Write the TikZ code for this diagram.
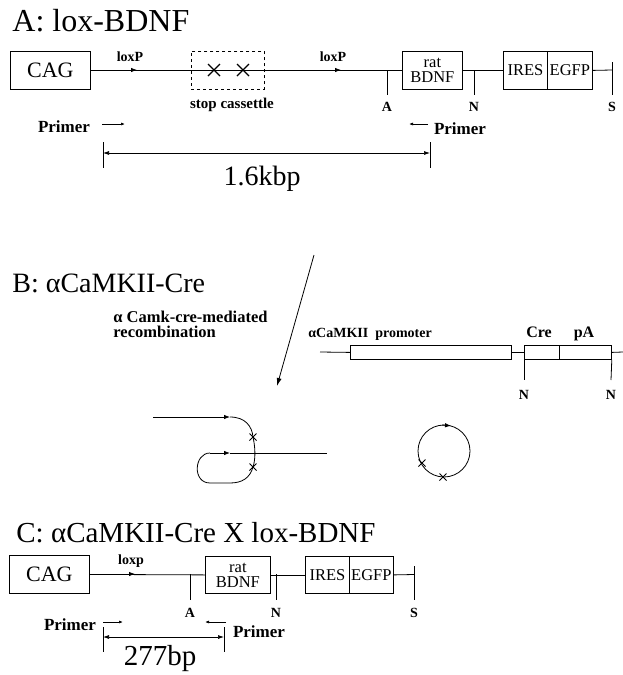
\documentclass[tikz,border=0pt]{standalone}
\usepackage{fontspec}
\setmainfont{Liberation Serif}
\usetikzlibrary{arrows.meta}
\newcommand\fsz[1]{\fontsize{#1}{#1}\selectfont}
\begin{document}
\begin{tikzpicture}[x=1pt,y=-1pt,line width=0.8pt,
  box/.style={draw,line width=0.8pt,inner sep=0pt,anchor=north west,minimum height=38pt},
  dbox/.style={box,dashed},
  title/.style={anchor=base west,inner sep=0pt,font=\fsz{29}},
  lbl/.style={inner sep=0pt,font=\bfseries\fsz{14}},
  big/.style={inner sep=0pt,font=\fsz{28}},
  twoline/.style={align=center,font=\fontsize{16.5}{15}\selectfont},
  tip/.style={-{Latex[length=6pt,width=4.5pt]}},
  ptip/.style={-{Latex[length=4pt,width=3pt]},line width=0.7pt},
  dim/.style={{Latex[length=6pt,width=4pt]}-{Latex[length=6pt,width=4pt]},line width=0.7pt},
  xcross/.pic={\draw[line width=0.8pt] (-3.5,-3.5)--(3.5,3.5) (-3.5,3.5)--(3.5,-3.5);},
  bigcross/.pic={\draw[line width=1.3pt] (-6,-6)--(6,6) (-6,6)--(6,-6);}]
\useasboundingbox (0,0) rectangle (623,675);

% ---------------- Panel A ----------------
\node[title,font=\fsz{32}] (titA) at (12,31) {A: lox-BDNF};
\node[box,minimum width=80pt,font=\fsz{22}] (cagA) at (10,51) {CAG};
\node[dbox,minimum width=73pt] (cas) at (191,51) {};
\node[box,minimum width=60pt,twoline] (bdnfA) at (402,51) {rat\\BDNF};
\node[box,minimum width=44pt,font=\fsz{16.5}] (iresA) at (503,51) {IRES};
\node[box,minimum width=45pt,font=\fsz{16.5}] (egfpA) at (547,51) {EGFP};
\coordinate (endA) at (612,70);
\draw (cagA.east) -- (bdnfA.west);
\draw (bdnfA.east) -- (iresA.west);
\draw (egfpA.east) -- (endA);
\pic at (214,70) {bigcross};
\pic at (243,70) {bigcross};
\node[lbl,font=\bfseries\fsz{15}] (stopl) at (232,105) {stop cassettle};
% loxP arrows
\coordinate (la1) at (137,70); \coordinate (la1s) at (128,70);
\coordinate (la2) at (341,70); \coordinate (la2s) at (332,70);
\draw[tip] (la1s) -- (la1);
\draw[tip] (la2s) -- (la2);
\node[lbl] (lx1) at (130,57) {loxP};
\node[lbl] (lx2) at (333,57) {loxP};
% sites
\coordinate (sAt) at (387,70); \coordinate (sAb) at (387,95);
\coordinate (sNt) at (474,70); \coordinate (sNb) at (474,95);
\coordinate (sSt) at (612,62); \coordinate (sSb) at (612,95);
\draw (sAt) -- (sAb); \draw (sNt) -- (sNb); \draw (sSt) -- (sSb);
\node[lbl] (lA) at (387,107) {A};
\node[lbl] (lN) at (474,107) {N};
\node[lbl] (lS) at (612,107) {S};
% primers
\node[lbl,font=\bfseries\fsz{17}] (p1) at (64,127) {Primer};
\coordinate (p1a) at (102,124); \coordinate (p1b) at (125,124);
\draw[ptip] (p1a) -- (p1b);
\coordinate (p2a) at (428,124); \coordinate (p2b) at (409,124);
\draw[ptip] (p2a) -- (p2b);
\node[lbl,font=\bfseries\fsz{17}] (p2) at (460,129) {Primer};
% dimension
\coordinate (dA1) at (103,153); \coordinate (dA2) at (430,153);
\coordinate (dA1t) at (103,142); \coordinate (dA1b) at (103,168);
\coordinate (dA2t) at (430,142); \coordinate (dA2b) at (430,168);
\draw[dim] (dA1) -- (dA2);
\draw[line width=0.7pt] (dA1t) -- (dA1b) (dA2t) -- (dA2b);
\node[big] (kbp) at (262,179) {1.6kbp};

% ---------------- Panel B ----------------
\node[title,font=\fsz{28}] (titB) at (12,292) {B: αCaMKII-Cre};
\node[anchor=base west,inner sep=0pt,font=\bfseries\fsz{16.5}] (rec1) at (113,322) {α Camk-cre-mediated};
\node[anchor=base west,inner sep=0pt,font=\bfseries\fsz{16.5}] (rec2) at (113,337) {recombination};
\coordinate (dg1) at (314,255); \coordinate (dg2) at (277,386);
\draw[-{Latex[length=8pt,width=5pt]}] (dg1) -- (dg2);
\node[anchor=base west,inner sep=0pt,font=\bfseries\fsz{14}] (promL) at (308,337) {αCaMKII\ \ promoter};
\node[anchor=base,inner sep=0pt,font=\bfseries\fsz{16}] (creL) at (539,337) {Cre};
\node[anchor=base,inner sep=0pt,font=\bfseries\fsz{16}] (paL) at (584,337) {pA};
\coordinate (b0) at (320,352); \coordinate (b9) at (623,352);
\node[box,minimum width=161pt,minimum height=14pt] (prom) at (350,345) {};
\node[box,minimum width=35pt,minimum height=14pt] (cre) at (524,345) {};
\node[box,minimum width=52pt,minimum height=14pt] (pa) at (559,345) {};
\draw (b0) -- (prom.west);
\draw (prom.east) -- (cre.west);
\draw (pa.east) -- (b9);
\coordinate (nb1) at (524,380); \coordinate (nb2) at (611,380);
\draw (cre.south west) -- (nb1);
\draw (pa.south east) -- (nb2);
\node[lbl] (lNb1) at (524,395) {N};
\node[lbl] (lNb2) at (611,395) {N};
% recombination sketch
\coordinate (r0) at (153,417); \coordinate (r1) at (230,417);
\coordinate (x1) at (253,437); \coordinate (x2) at (253,467);
\coordinate (r2) at (230,483); \coordinate (r3) at (210,483);
\coordinate (r4) at (210,453); \coordinate (r5) at (230,453);
\coordinate (r6) at (327,453);
\draw[tip] (r0) -- (r1);
\draw (r1) .. controls (245,417) and (252,426) .. (x1)
      .. controls (255,446) and (256,458) .. (x2)
      .. controls (250,478) and (242,483) .. (r2) -- (r3)
      .. controls (192,483) and (194,453) .. (r4);
\draw[tip] (r4) -- (r5);
\draw (r5) -- (r6);
\pic at (x1) {xcross};
\pic at (x2) {xcross};
% circle
\coordinate (cc) at (444,451);
\draw (cc) circle[radius=26pt];
\coordinate (ca1) at (442,425); \coordinate (ca2) at (451,425.8);
\draw[tip] (ca1) -- (ca2);
\pic at (422,463) {xcross};
\pic at (443,477) {xcross};

% ---------------- Panel C ----------------
\node[title,font=\fsz{29}] (titC) at (16,542) {C: αCaMKII-Cre X lox-BDNF};
\node[box,minimum width=80pt,font=\fsz{22}] (cagC) at (9,555) {CAG};
\node[box,minimum width=65pt,minimum height=37pt,twoline] (bdnfC) at (205,556) {rat\\BDNF};
\node[box,minimum width=44pt,minimum height=37pt,font=\fsz{16.5}] (iresC) at (305,556) {IRES};
\node[box,minimum width=44pt,minimum height=37pt,font=\fsz{16.5}] (egfpC) at (349,556) {EGFP};
\coordinate (endC) at (414,574.5);
\draw (cagC.east) -- (bdnfC.west);
\draw (bdnfC.east) -- (iresC.west);
\draw (egfpC.east) -- (endC);
\coordinate (lc1s) at (126,574); \coordinate (lc1) at (135,574);
\draw[tip] (lc1s) -- (lc1);
\node[lbl] (lxC) at (131,561) {loxp};
\coordinate (cAt) at (190,574); \coordinate (cAb) at (190,600);
\coordinate (cNt) at (276,574); \coordinate (cNb) at (276,600);
\coordinate (cSt) at (414,566); \coordinate (cSb) at (414,600);
\draw (cAt) -- (cAb); \draw (cNt) -- (cNb); \draw (cSt) -- (cSb);
\node[lbl] (lAC) at (190,613) {A};
\node[lbl] (lNC) at (276,613) {N};
\node[lbl] (lSC) at (414,613) {S};
\node[lbl,font=\bfseries\fsz{17}] (pc1) at (70,625) {Primer};
\coordinate (pc1a) at (103,622); \coordinate (pc1b) at (123,622);
\draw[ptip] (pc1a) -- (pc1b);
\coordinate (pc2a) at (226,622); \coordinate (pc2b) at (205,622);
\draw[ptip] (pc2a) -- (pc2b);
\node[lbl,font=\bfseries\fsz{17}] (pc2) at (259,632) {Primer};
\coordinate (dC1) at (103,637); \coordinate (dC2) at (224,637);
\coordinate (dC1t) at (103,627); \coordinate (dC1b) at (103,652);
\coordinate (dC2t) at (224,627); \coordinate (dC2b) at (224,652);
\draw[dim] (dC1) -- (dC2);
\draw[line width=0.7pt] (dC1t) -- (dC1b) (dC2t) -- (dC2b);
\node[big,font=\fsz{29}] (bp) at (160,659) {277bp};
\end{tikzpicture}
\end{document}
